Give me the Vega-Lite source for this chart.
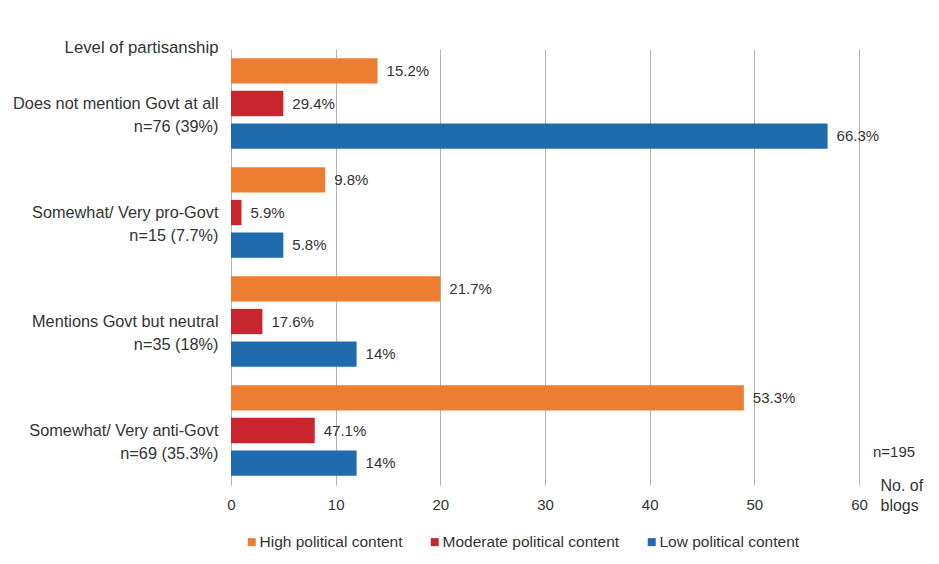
{
  "$schema": "https://vega.github.io/schema/vega-lite/v6.json",
  "width": 628,
  "height": 436,
  "autosize": {"type": "none"},
  "padding": {"left": 231, "top": 49, "right": 80, "bottom": 79},
  "background": "white",
  "config": {
    "view": {"stroke": null},
    "font": "Liberation Sans",
    "text": {"font": "Liberation Sans"}
  },
  "datasets": {
    "blogs": [
      {"group": "Does not mention Govt at all|n=76 (39%)", "content": "High political content", "count": 14, "pct": "15.2%"},
      {"group": "Does not mention Govt at all|n=76 (39%)", "content": "Moderate political content", "count": 5, "pct": "29.4%"},
      {"group": "Does not mention Govt at all|n=76 (39%)", "content": "Low political content", "count": 57, "pct": "66.3%"},
      {"group": "Somewhat/ Very pro-Govt|n=15 (7.7%)", "content": "High political content", "count": 9, "pct": "9.8%"},
      {"group": "Somewhat/ Very pro-Govt|n=15 (7.7%)", "content": "Moderate political content", "count": 1, "pct": "5.9%"},
      {"group": "Somewhat/ Very pro-Govt|n=15 (7.7%)", "content": "Low political content", "count": 5, "pct": "5.8%"},
      {"group": "Mentions Govt but neutral|n=35 (18%)", "content": "High political content", "count": 20, "pct": "21.7%"},
      {"group": "Mentions Govt but neutral|n=35 (18%)", "content": "Moderate political content", "count": 3, "pct": "17.6%"},
      {"group": "Mentions Govt but neutral|n=35 (18%)", "content": "Low political content", "count": 12, "pct": "14%"},
      {"group": "Somewhat/ Very anti-Govt|n=69 (35.3%)", "content": "High political content", "count": 49, "pct": "53.3%"},
      {"group": "Somewhat/ Very anti-Govt|n=69 (35.3%)", "content": "Moderate political content", "count": 8, "pct": "47.1%"},
      {"group": "Somewhat/ Very anti-Govt|n=69 (35.3%)", "content": "Low political content", "count": 12, "pct": "14%"}
    ],
    "notes": [
      {"note": "n=195", "group": "Somewhat/ Very anti-Govt|n=69 (35.3%)"}
    ]
  },
  "layer": [
    {
      "data": {"name": "blogs"},
      "mark": {"type": "bar"},
      "encoding": {
        "y": {
          "field": "group",
          "type": "nominal",
          "sort": null,
          "scale": {"paddingInner": 0, "paddingOuter": 0},
          "axis": {
            "title": "Level of partisanship",
            "titleAngle": 0,
            "titleAlign": "right",
            "titleBaseline": "alphabetic",
            "titleX": -13,
            "titleY": 3,
            "titleFontSize": 16.8,
            "titleFontWeight": "normal",
            "titleColor": "#333333",
            "labelExpr": "split(datum.label, '|')",
            "labelFontSize": 16.3,
            "labelLineHeight": 23.5,
            "labelOffset": 0,
            "labelPadding": 13,
            "labelColor": "#333333",
            "labelBaseline": "middle",
            "labelAlign": "right",
            "labelLimit": 400,
            "labelOverlap": false,
            "ticks": false,
            "domain": false,
            "grid": false
          }
        },
        "yOffset": {
          "field": "content",
          "type": "nominal",
          "sort": ["High political content", "Moderate political content", "Low political content"],
          "scale": {"paddingInner": 0.226, "paddingOuter": 0.28}
        },
        "x": {
          "field": "count",
          "type": "quantitative",
          "scale": {"domain": [0, 60], "nice": false, "zero": true},
          "axis": {
            "values": [0, 10, 20, 30, 40, 50, 60],
            "grid": true,
            "gridColor": "#b3b3b3",
            "gridWidth": 1,
            "ticks": false,
            "domain": false,
            "labelFontSize": 15,
            "labelColor": "#333333",
            "labelPadding": 12,
            "labelFlush": false,
            "title": ["No. of", "blogs"],
            "titleAlign": "left",
            "titleAnchor": "start",
            "titleX": 649,
            "titleY": 0,
            "titleBaseline": "middle",
            "titleFontSize": 16,
            "titleFontWeight": "normal",
            "titleLineHeight": 20,
            "titleColor": "#333333"
          }
        },
        "color": {
          "field": "content",
          "type": "nominal",
          "scale": {
            "domain": ["High political content", "Moderate political content", "Low political content"],
            "range": ["#ED7D31", "#C9252F", "#1F6BAE"]
          },
          "legend": {
            "orient": "none",
            "legendX": 13,
            "legendY": 485,
            "direction": "horizontal",
            "title": null,
            "symbolType": "square",
            "symbolSize": 64,
            "symbolStrokeWidth": 0,
            "labelFontSize": 15.5,
            "labelColor": "#333333",
            "labelOffset": 0,
            "columnPadding": 24,
            "padding": 0,
            "labelLimit": 400
          }
        }
      }
    },
    {
      "data": {"name": "blogs"},
      "mark": {"type": "text", "align": "left", "baseline": "middle", "dx": 9, "fontSize": 15, "color": "#333333"},
      "encoding": {
        "y": {"field": "group", "type": "nominal", "sort": null},
        "yOffset": {"field": "content", "type": "nominal", "sort": ["High political content", "Moderate political content", "Low political content"]},
        "x": {"field": "count", "type": "quantitative"},
        "text": {"field": "pct"}
      }
    },
    {
      "data": {"name": "notes"},
      "mark": {"type": "text", "align": "left", "baseline": "middle", "dx": 14, "dy": 21, "fontSize": 15, "color": "#333333"},
      "encoding": {
        "y": {"field": "group", "type": "nominal", "sort": null},
        "x": {"datum": 60, "type": "quantitative"},
        "text": {"field": "note"}
      }
    }
  ]
}
